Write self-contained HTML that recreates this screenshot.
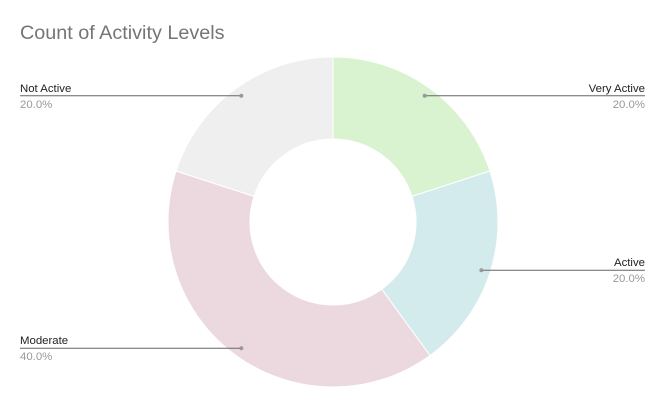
<!DOCTYPE html>
<html><head><meta charset="utf-8"><style>
body{margin:0;background:#fff;}
svg{display:block;font-family:"Liberation Sans",Arial,sans-serif;}
</style></head><body>
<svg width="666" height="408">
<rect width="666" height="408" fill="#fff"/>
<text x="20" y="39" font-size="19.8" fill="#757575">Count of Activity Levels</text>
<g id="slices"></g>
<g id="labels"></g>
</svg>
<script>
const categories=["Very Active","Active","Moderate","Not Active"];
const values=[1,1,2,1];
const colors=["#d9f2d0","#d4ebed","#ecd9e0","#efefef"];
const cx=333,cy=222,R=165,r=83,lr=156;
const total=values.reduce((a,b)=>a+b,0);
const ns="http://www.w3.org/2000/svg";
const gs=document.getElementById('slices'),gl=document.getElementById('labels');
function pt(a,rad){return [cx+rad*Math.sin(a),cy-rad*Math.cos(a)];}
let acc=0;
values.forEach((v,i)=>{
 const a0=acc/total*2*Math.PI;acc+=v;const a1=acc/total*2*Math.PI;
 const large=(a1-a0)>Math.PI?1:0;
 const [x0,y0]=pt(a0,R),[x1,y1]=pt(a1,R),[x2,y2]=pt(a1,r),[x3,y3]=pt(a0,r);
 const p=document.createElementNS(ns,'path');
 p.setAttribute('d',`M${x0},${y0}A${R},${R} 0 ${large} 1 ${x1},${y1}L${x2},${y2}A${r},${r} 0 ${large} 0 ${x3},${y3}Z`);
 p.setAttribute('fill',colors[i]);p.setAttribute('stroke','#fff');p.setAttribute('stroke-width','1');
 
 
 gs.appendChild(p);
 const am=(a0+a1)/2;const [dx,dy]=pt(am,lr);
 const right=dx>cx;const ex=right?645:20;
 const g=document.createElementNS(ns,'g');
 
 
 g.innerHTML=`<line x1="${dx}" y1="${dy}" x2="${ex}" y2="${dy}" stroke="#666" stroke-width="1"/><circle cx="${dx}" cy="${dy}" r="2" fill="#999"/>`+
 `<text x="${ex}" y="${dy-4}" font-size="11.4" fill="#222" text-anchor="${right?'end':'start'}">${categories[i]}</text>`+
 `<text x="${ex}" y="${dy+12}" font-size="11.4" fill="#999" text-anchor="${right?'end':'start'}">${(v/total*100).toFixed(1)}%</text>`;
 gl.appendChild(g);
});
</script>
</body></html>
